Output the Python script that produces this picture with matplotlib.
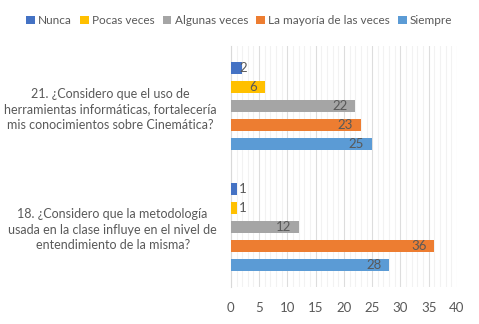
import matplotlib.pyplot as plt
from matplotlib.ticker import MultipleLocator
import numpy as np

plt.rcParams['font.family'] = ['Lato', 'DejaVu Sans']

# data
preguntas = ['18. ¿Considero que la metodología\nusada en la clase influye en el nivel de\nentendimiento de la misma?',
             '21. ¿Considero que el uso de\nherramientas informáticas, fortalecería\nmis conocimientos sobre Cinemática?']
series = ['Nunca', 'Pocas veces', 'Algunas veces', 'La mayoría de las veces', 'Siempre']
nunca = [1, 2]
pocas = [1, 6]
algunas = [12, 22]
mayoria = [36, 23]
siempre = [28, 25]
valores = [nunca, pocas, algunas, mayoria, siempre]
colores = ['#4472C4', '#FFC000', '#A5A5A5', '#ED7D31', '#5B9BD5']

gris = '#595959'

fig = plt.figure(figsize=(4.79, 3.24), dpi=100)
ax = fig.add_axes([0.482, 0.114, 0.472, 0.744])

y = np.arange(len(preguntas))
paso = 0.158
for i in range(len(series)):
    pos = y + (2 - i) * paso
    ax.barh(pos, valores[i], height=0.1, color=colores[i], label=series[i], zorder=3)
    for p, v in zip(pos, valores[i]):
        if v < 3:
            ax.text(1.5, p, str(v), ha='left', va='center', fontsize=9.5, color=gris, zorder=4)
        else:
            ax.text(v - 1.4, p, str(v), ha='right', va='center', fontsize=9.5, color=gris, zorder=4)

ax.set_xlim(0, 40)
ax.set_ylim(-0.5, 1.5)
ax.set_yticks(y)
ax.set_yticklabels(preguntas, multialignment='center', fontsize=9, color=gris,
                   linespacing=1.35)
ax.xaxis.set_major_locator(MultipleLocator(5))
ax.xaxis.set_minor_locator(MultipleLocator(1))
ax.grid(axis='x', which='major', color='#DDDDDD', linewidth=0.8, zorder=0)
ax.grid(axis='x', which='minor', color='#F2F2F2', linewidth=0.8, zorder=0)
ax.tick_params(axis='x', which='both', length=0, labelsize=9.5, labelcolor=gris, pad=11)
ax.tick_params(axis='y', length=0, pad=10)
for s in ['top', 'right', 'bottom']:
    ax.spines[s].set_visible(False)
ax.spines['left'].set_color('#D9D9D9')

fig.legend(loc='upper center', bbox_to_anchor=(0.5, 0.985), ncol=5, frameon=False,
           fontsize=8.5, handlelength=0.7, handleheight=0.7, handletextpad=0.3,
           columnspacing=0.7, labelcolor=gris)

plt.savefig('out.png', dpi=100)
